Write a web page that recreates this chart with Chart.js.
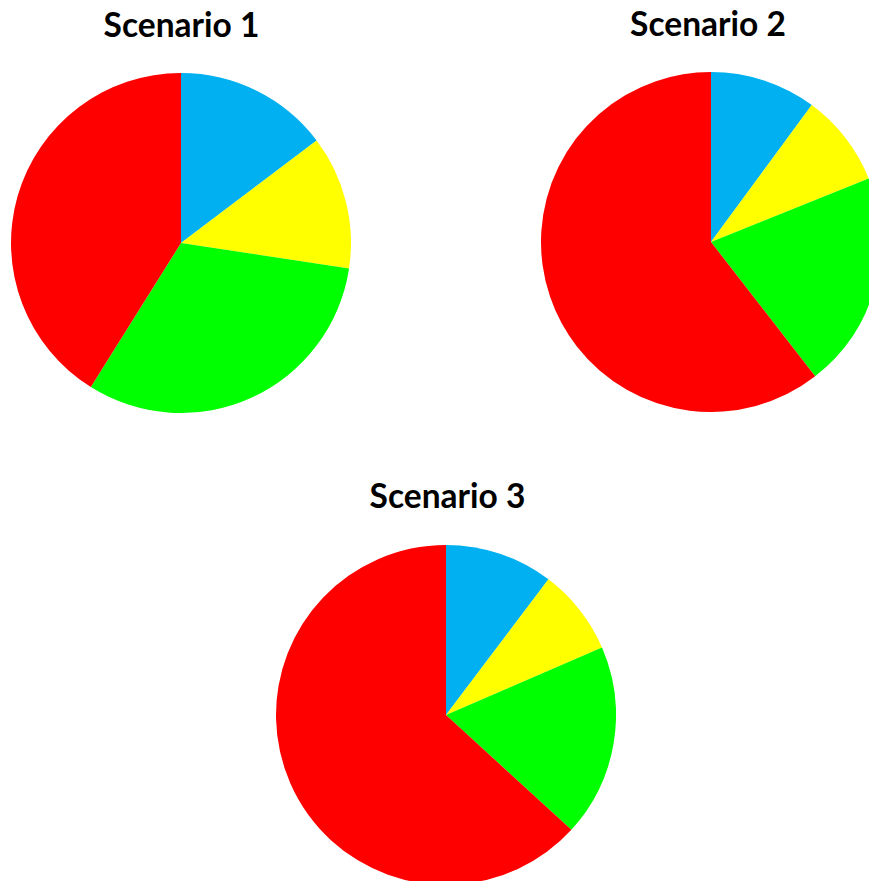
<!DOCTYPE html>
<html lang="en">
<head>
  <meta charset="UTF-8">
  <title>Scenario Pies</title>
  <script src="https://cdn.jsdelivr.net/npm/chart.js"></script>
  <style>
    html, body { margin: 0; padding: 0; background: #fff; }
    body { width: 869px; height: 881px; overflow: hidden; position: relative; font-family: Lato, "Open Sans", sans-serif; }
    .title {
      position: absolute;
      width: 300px;
      text-align: center;
      font-weight: bold;
      font-size: 33.5px;
      line-height: 33px;
      color: #000;
    }
    .pie { position: absolute; width: 340px; height: 340px; }
  </style>
</head>
<body>
  <div class="title" style="left:31.5px; top:8px;">Scenario 1</div>
  <div class="title" style="left:558px; top:6.5px;">Scenario 2</div>
  <div class="title" style="left:297.5px; top:479px;">Scenario 3</div>

  <div class="pie" style="left:10.5px; top:72.5px;"><canvas id="pie1"></canvas></div>
  <div class="pie" style="left:541px; top:72px;"><canvas id="pie2"></canvas></div>
  <div class="pie" style="left:276px; top:545px;"><canvas id="pie3"></canvas></div>

  <script>
    // slice order clockwise from 12 o'clock
    const categories = ["Category 1", "Category 2", "Category 3", "Category 4"];
    const sliceColors = ["#00B0F0", "#FFFF00", "#00FF00", "#FF0000"];

    const scenario1 = [14.7, 12.7, 31.5, 41.1];
    const scenario2 = [10.1, 8.8, 20.6, 60.5];
    const scenario3 = [10.3, 8.2, 18.3, 63.2];

    function drawPie(id, values) {
      new Chart(document.getElementById(id), {
        type: 'pie',
        data: {
          labels: categories,
          datasets: [{
            data: values,
            backgroundColor: sliceColors,
            borderWidth: 0,
            hoverOffset: 0
          }]
        },
        options: {
          responsive: true,
          maintainAspectRatio: false,
          animation: false,
          layout: { padding: 0 },
          plugins: {
            legend: { display: false },
            tooltip: { enabled: false }
          }
        }
      });
    }

    drawPie("pie1", scenario1);
    drawPie("pie2", scenario2);
    drawPie("pie3", scenario3);
  </script>
</body>
</html>
